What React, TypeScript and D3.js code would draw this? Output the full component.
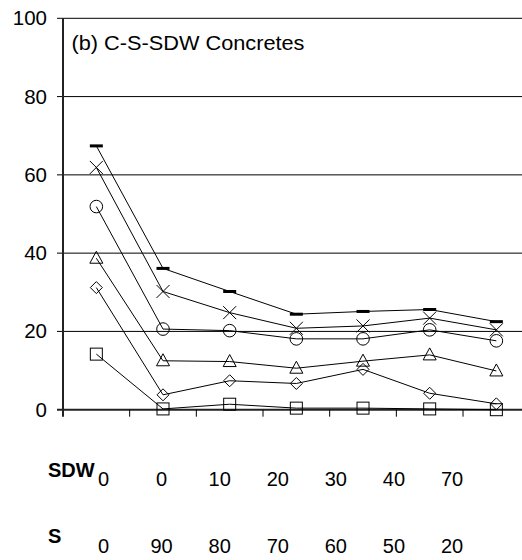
import * as d3 from "d3";
import { useEffect, useRef } from "react";

// 7 mixes, values
const mixes = ["M1", "M2", "M3", "M4", "M5", "M6", "M7"];
const sdwRow = ["0", "0", "10", "20", "30", "40", "70"];
const sRow = ["0", "90", "80", "70", "60", "50", "20"];
const yTicks = [0, 20, 40, 60, 80, 100];

const dashSeries = [67.4, 36.1, 30.2, 24.4, 25.1, 25.6, 22.5];
const timesSeries = [61.9, 30.2, 24.8, 20.8, 21.4, 23.4, 20.4];
const circleSeries = [51.9, 20.6, 20.2, 18.1, 18.1, 20.4, 17.6];
const triangleSeries = [38.7, 12.5, 12.3, 10.6, 12.4, 14.0, 9.9];
const diamondSeries = [31.2, 3.8, 7.4, 6.7, 10.3, 4.2, 1.5];
const squareSeries = [14.2, 0.2, 1.4, 0.4, 0.4, 0.2, 0.0];

const series = [
  { name: "dash", values: dashSeries },
  { name: "times", values: timesSeries },
  { name: "circle", values: circleSeries },
  { name: "triangle", values: triangleSeries },
  { name: "diamond", values: diamondSeries },
  { name: "square", values: squareSeries },
];

export default function App() {
  const ref = useRef<SVGSVGElement>(null);

  useEffect(() => {
    const width = 522;
    const height = 560;
    const left = 63;
    const svg = d3.select(ref.current);
    svg.selectAll("*").remove();
    svg.attr("width", width).attr("height", height);

    const x = d3.scaleBand().domain(mixes).range([left, left + 7 * 66.67]);
    const y = d3.scaleLinear().domain([0, 100]).range([409.7, 18.3]);
    const font = "'Liberation Sans', Arial, sans-serif";

    // gridlines + y ticks
    svg.append("g")
      .selectAll("line")
      .data(yTicks.filter(d => d > 0))
      .enter()
      .append("line")
      .attr("x1", left - 6)
      .attr("x2", width)
      .attr("y1", d => y(d))
      .attr("y2", d => y(d))
      .attr("stroke", "#000")
      .attr("stroke-width", 1);

    svg.append("g")
      .selectAll("text")
      .data(yTicks)
      .enter()
      .append("text")
      .attr("x", 47)
      .attr("y", d => y(d) + 7)
      .attr("text-anchor", "end")
      .attr("font-family", font)
      .attr("font-size", 20.5)
      .text(d => d);

    // axes
    svg.append("line")
      .attr("x1", left).attr("x2", left)
      .attr("y1", y(100)).attr("y2", y(0) + 7)
      .attr("stroke", "#222").attr("stroke-width", 2);
    svg.append("line")
      .attr("x1", left - 6).attr("x2", width)
      .attr("y1", y(0)).attr("y2", y(0))
      .attr("stroke", "#222").attr("stroke-width", 2);

    svg.append("g")
      .selectAll("line")
      .data(mixes.slice(1))
      .enter()
      .append("line")
      .attr("x1", d => x(d)!)
      .attr("x2", d => x(d)!)
      .attr("y1", y(0))
      .attr("y2", y(0) + 7)
      .attr("stroke", "#000");

    const cx = (i: number) => x(mixes[i])! + x.bandwidth() / 2;
    const line = d3.line<number>().x((_, i) => cx(i)).y(d => y(d));

    series.forEach(s => {
      svg.append("path")
        .attr("d", line(s.values))
        .attr("fill", "none")
        .attr("stroke", "#000")
        .attr("stroke-width", 1);

      const g = svg.append("g")
        .selectAll("g")
        .data(s.values)
        .enter()
        .append("g")
        .attr("transform", (d, i) => `translate(${cx(i)},${y(d)})`);

      if (s.name === "dash") {
        g.append("rect").attr("x", -6.5).attr("y", -1.5).attr("width", 13).attr("height", 3).attr("fill", "#000");
      } else if (s.name === "times") {
        g.append("path").attr("d", "M-6.5,-6.5L6.5,6.5M-6.5,6.5L6.5,-6.5").attr("stroke", "#000").attr("fill", "none");
      } else if (s.name === "circle") {
        g.append("circle").attr("r", 6.3).attr("fill", "none").attr("stroke", "#000");
      } else if (s.name === "triangle") {
        g.append("path").attr("d", "M0,-7L6.5,5L-6.5,5Z").attr("fill", "none").attr("stroke", "#000");
      } else if (s.name === "diamond") {
        g.append("path").attr("d", "M0,-6L6,0L0,6L-6,0Z").attr("fill", "none").attr("stroke", "#000");
      } else {
        g.append("rect").attr("x", -6).attr("y", -6).attr("width", 12).attr("height", 12).attr("fill", "none").attr("stroke", "#000");
      }
    });

    svg.append("text")
      .attr("x", 71.5)
      .attr("y", 50)
      .attr("font-family", font)
      .attr("font-size", 20)
      .attr("textLength", 233)
      .attr("lengthAdjust", "spacingAndGlyphs")
      .text("(b) C-S-SDW Concretes");

    // table below the chart
    const tx = d3.scalePoint().domain(d3.range(7).map(String)).range([103.5, 452]);

    svg.append("text").attr("x", 48).attr("y", 476.5).attr("font-family", font)
      .attr("font-size", 20).attr("font-weight", "bold").text("SDW");
    svg.append("text").attr("x", 48).attr("y", 543).attr("font-family", font)
      .attr("font-size", 20).attr("font-weight", "bold").text("S");

    svg.append("g").selectAll("text").data(sdwRow).enter().append("text")
      .attr("x", (_, i) => tx(String(i))!)
      .attr("y", 486)
      .attr("text-anchor", "middle")
      .attr("font-family", font).attr("font-size", 20)
      .text(d => d);

    svg.append("g").selectAll("text").data(sRow).enter().append("text")
      .attr("x", (_, i) => tx(String(i))!)
      .attr("y", 553)
      .attr("text-anchor", "middle")
      .attr("font-family", font).attr("font-size", 20)
      .text(d => d);
  }, []);

  return (
    <svg ref={ref} style={{ position: "absolute", left: 0, top: 0 }}></svg>
  );
}
